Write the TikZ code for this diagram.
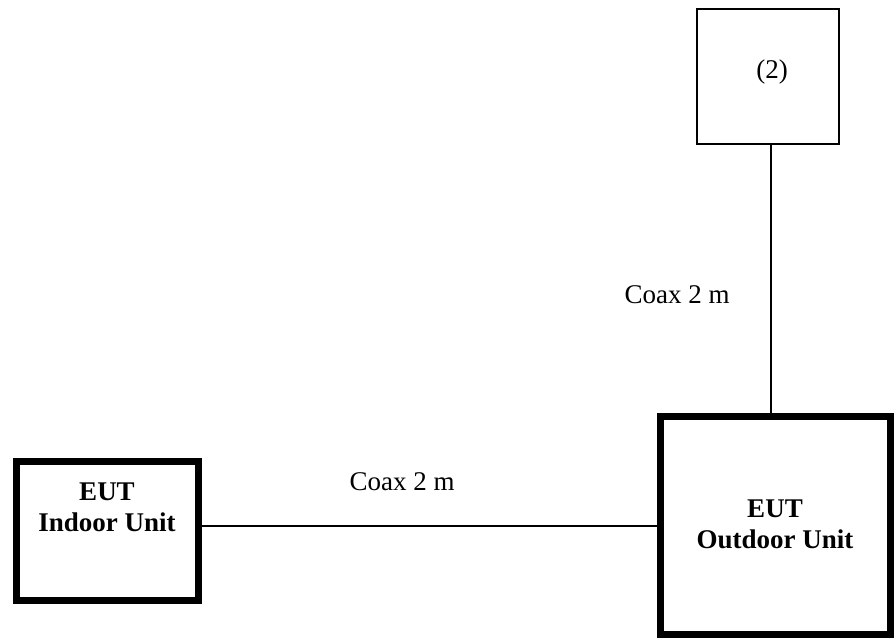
\documentclass[tikz,border=0pt]{standalone}
\usepackage{fontspec}
\setmainfont{Liberation Serif}
\usepackage{tikz}
\usetikzlibrary{positioning}
\tikzset{
  unitbox/.style={draw,line width=3.5pt,rectangle,inner sep=0pt},
  auxbox/.style={draw,line width=.65pt,rectangle,inner sep=0pt},
  unitlabel/.style={align=center,font=\fontsize{13.5}{15.5}\selectfont\bfseries},
  cablelabel/.style={font=\fontsize{13.5}{15.5}\selectfont},
  coax/.style={line width=.55pt}
}

\begin{document}
\begin{tikzpicture}[x=.5pt,y=-.5pt]
    \useasboundingbox (0,0) rectangle (895,640);
    % units
    \node[unitbox,minimum width=91pt,minimum height=69.5pt] (indoor) at (107,531.5) {};
    \node[unitlabel] (indoorlbl) at (107,507) {EUT\\Indoor Unit};
    \node[unitbox,minimum width=115pt,minimum height=109pt] (outdoor) at (775,526) {};
    \node[unitlabel] (outdoorlbl) at (775,524) {EUT\\Outdoor Unit};
    \node[auxbox,minimum width=71pt,minimum height=67.5pt] (aux) at (768,76.5) {};
    \node[cablelabel] (auxlbl) at (772,72) {(2)};
    % cables
    \coordinate (coaxv) at (771,0);
    \draw[coax] (indoor.east |- outdoor.west) -- (outdoor.west);
    \draw[coax] (aux.south -| coaxv) -- (outdoor.north -| coaxv);
    \node[cablelabel] (coaxh) at (402,482) {Coax 2 m};
    \node[cablelabel] (coaxup) at (677,295) {Coax 2 m};
\end{tikzpicture}
\end{document}
